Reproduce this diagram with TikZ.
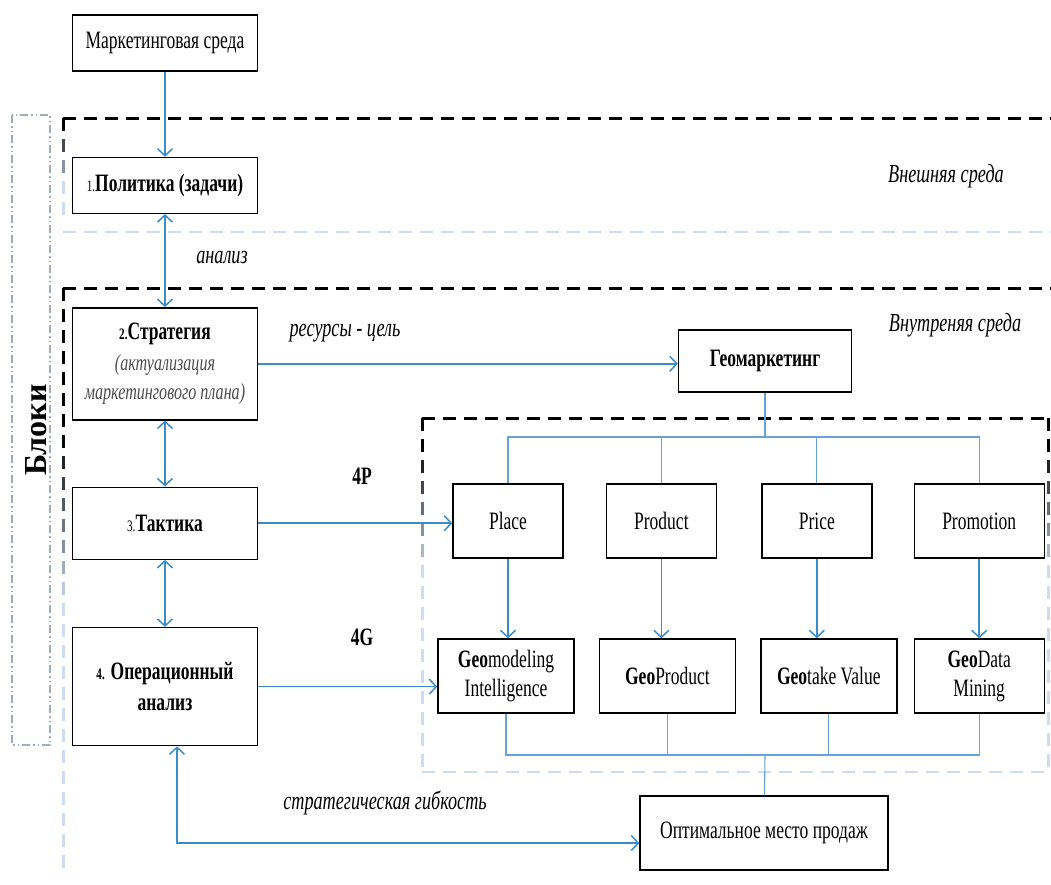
\documentclass[tikz,border=0pt]{standalone}
\usepackage{fontspec}
\setmainfont{Liberation Serif}[FakeStretch=0.7]
\newfontfamily\blokfont{Liberation Serif}
\usetikzlibrary{arrows.meta, positioning}

\definecolor{linkblue}{RGB}{58,140,205}
\definecolor{busblue}{RGB}{100,162,215}
\definecolor{paleframe}{RGB}{205,220,240}
\definecolor{blokgray}{RGB}{160,172,190}

\begin{document}
\begin{tikzpicture}[x=1pt, y=-1pt,
    >={Straight Barb[length=7pt,width=15pt]},
    block/.style={rectangle, draw=black, line width=1.4pt, fill=white, minimum width=185pt, align=center, inner sep=3pt, font=\fontsize{25}{29}\selectfont},
    subblock/.style={block, minimum width=110pt, minimum height=74pt},
    arrow/.style={->, line width=1.5pt, draw=linkblue},
    twoway/.style={arrow, <->},
    bus/.style={line width=1.1pt, draw=busblue},
    blackdash/.style={line width=3pt, dash pattern=on 13pt off 8pt},
    paledash/.style={line width=2.5pt, draw=paleframe, dash pattern=on 13pt off 8pt},
    fadedash/.style={line width=3pt},
    note/.style={font=\fontsize{26}{30}\selectfont\itshape},
    tag/.style={font=\fontsize{25}{29}\selectfont\bfseries}
]
    \fill[white] (0,0) rectangle (1051,884);
    \useasboundingbox (0,0) rectangle (1051,884);

    % frames: external, internal, 4P/4G
    \draw[blackdash] (63,118) -- (1051,118);
    \draw[paledash] (63,232) -- (1051,232);
    \draw[blackdash] (63,288) -- (1051,288);
    \draw[blackdash] (422,418) -- (1048,418);
    \draw[paledash] (422,772) -- (1048,772);
    \foreach \y in {118,139,...,213} {
        \pgfmathsetmacro{\mix}{min(100,(\y-118)*1.6)}
        \draw[fadedash, draw=paleframe!\mix!black] (63,\y) -- (63,\y+13);
    }
    \foreach \y in {288,309,...,870} {
        \pgfmathsetmacro{\mix}{max(0,min(100,(\y-430)*0.6))}
        \draw[fadedash, draw=paleframe!\mix!black] (63,\y) -- (63,\y+13);
    }
    \foreach \y in {418,439,...,755} {
        \pgfmathsetmacro{\mix}{max(0,min(100,(\y-440)*0.8))}
        \draw[fadedash, draw=paleframe!\mix!black] (422,\y) -- (422,\y+13);
        \draw[fadedash, draw=paleframe!\mix!black] (1048,\y) -- (1048,\y+13);
    }

    % blocks
    \draw[blokgray, line width=1.2pt, dash pattern=on 8pt off 3pt on 1.5pt off 3pt on 1.5pt off 3pt] (12,115) rectangle (50,745);
    \node[rotate=90, font=\blokfont\bfseries\fontsize{32}{36}\selectfont] (bloki) at (36,430) {Блоки};

    % left column
    \node[block, minimum height=56pt] (market) at (165,43) {Маркетинговая среда};
    \node[block, minimum height=56pt, below=85pt of market] (policy) {{\fontsize{16}{20}\selectfont 1.}\textbf{Политика (задачи)}};
    \node[block, minimum height=112pt, below=93pt of policy] (strategy) {{\fontsize{16}{20}\selectfont\bfseries 2.}\textbf{Стратегия}\\[2pt]
        \textcolor{black!70}{\fontsize{23}{27}\selectfont\itshape (актуализация}\\
        \textcolor{black!70}{\fontsize{23}{27}\selectfont\itshape маркетингового плана)}};
    \node[block, minimum height=72pt, below=66pt of strategy] (tactic) {{\fontsize{16}{20}\selectfont 3.}\textbf{Тактика}};
    \node[block, minimum height=118pt, below=67pt of tactic] (oper) {\textbf{{\fontsize{16}{20}\selectfont 4.} Операционный}\\[2pt]\textbf{анализ}};

    % right part
    \node[block, minimum width=173pt, minimum height=62pt] (geomark) at (765,361) {\textbf{Геомаркетинг}};
    \node[subblock] (place) at (508,521) {Place};
    \node[subblock, right=42pt of place] (product) {Product};
    \node[subblock, right=44pt of product] (price) {Price};
    \node[subblock, minimum width=130pt, right=41pt of price] (promo) {Promotion};
    \node[subblock, minimum width=136pt] (gmod) at (506,676) {\textbf{Geo}modeling\\Intelligence};
    \node[subblock, minimum width=136pt, right=24pt of gmod] (gprod) {\textbf{Geo}Product};
    \node[subblock, minimum width=136pt, right=24pt of gprod] (gtake) {\textbf{Geo}take Value};
    \node[subblock, minimum width=130pt, right=16pt of gtake] (gdata) {\textbf{Geo}Data\\Mining};
    \node[block, minimum width=248pt, minimum height=74pt] (optimal) at (764,833) {Оптимальное место продаж};

    % labels
    \node[note] (outer) at (946,176) {Внешняя среда};
    \node[note] (inner) at (955,325) {Внутреняя среда};
    \node[note] (analysis) at (222,258) {анализ};
    \node[note] (resource) at (345,333) {ресурсы - цель};
    \node[tag] (fourp) at (362,476) {4P};
    \node[tag] (fourg) at (362,637) {4G};
    \node[note] (flex) at (385,803) {стратегическая гибкость};

    % connectors
    \draw[arrow] (market) -- (policy);
    \draw[twoway] (policy) -- (strategy);
    \draw[twoway] (strategy) -- (tactic);
    \draw[twoway] (tactic) -- (oper);
    \draw[arrow] (strategy.east) -- (strategy.east -| geomark.west);
    \draw[arrow] (tactic.east) -- (tactic.east -| place.west);
    \draw[arrow] (oper.east) -- (oper.east -| gmod.west);
    \draw[twoway] ([xshift=12pt]oper.south) |- ([yshift=-10pt]optimal.west);

    \coordinate (topjoint) at (765,437);
    \draw[bus] (geomark) -- (topjoint);
    \draw[bus] (place.north) |- (topjoint) -| (promo.north);
    \draw[bus] (product.north) -- (product.north |- topjoint);
    \draw[bus] (price.north) -- (price.north |- topjoint);

    \draw[arrow] (place) -- (place |- gmod.north);
    \draw[arrow] (product) -- (product |- gprod.north);
    \draw[arrow] (price) -- (price |- gtake.north);
    \draw[arrow] (promo) -- (promo |- gdata.north);

    \coordinate (lowjoint) at (765,755);
    \draw[bus] (gmod.south) |- (lowjoint) -| (gdata.south);
    \draw[bus] (gprod.south) -- (gprod.south |- lowjoint);
    \draw[bus] (gtake.south) -- (gtake.south |- lowjoint);
    \draw[bus] (lowjoint) -- (optimal);
\end{tikzpicture}
\end{document}
